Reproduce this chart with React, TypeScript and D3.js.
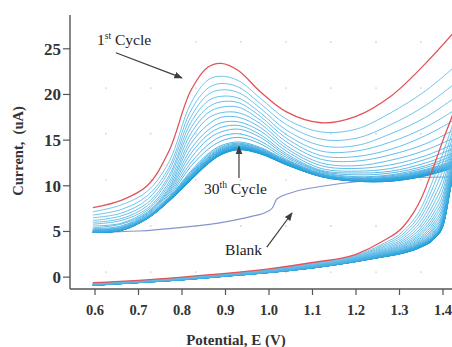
import * as d3 from 'd3';

// potential grids (V) for the two half-scans
const upperE = [0.595, 0.66, 0.72, 0.77, 0.82, 0.86, 0.89, 0.93, 0.98, 1.04, 1.12, 1.2, 1.28, 1.36, 1.44];
const lowerE = [0.595, 0.7, 0.8, 0.9, 1.0, 1.1, 1.2, 1.26, 1.31, 1.35, 1.38, 1.4, 1.42, 1.45];

// upper half-scan current (uA), cycle 1 .. cycle 30
const upperScans: number[][] = [
  [7.6, 8.4, 10.0, 13.8, 20.4, 23.0, 23.4, 22.6, 20.3, 18.1, 16.9, 17.6, 19.8, 23.4, 27.6],
  [7.15, 7.9, 9.4, 12.6, 19.0, 21.6, 22.0, 21.5, 19.6, 17.3, 15.9, 16.2, 18.0, 20.4, 23.6],
  [6.8, 7.4, 8.9, 12.0, 18.2, 20.7, 21.2, 20.8, 19.0, 16.7, 15.1, 15.2, 16.7, 18.8, 21.7],
  [6.5, 7.0, 8.5, 11.6, 17.5, 20.0, 20.5, 20.2, 18.5, 16.1, 14.4, 14.4, 15.7, 17.5, 20.1],
  [6.2, 6.7, 8.1, 11.1, 16.9, 19.3, 19.8, 19.6, 18.0, 15.6, 13.8, 13.8, 14.8, 16.4, 18.7],
  [6.0, 6.4, 7.8, 10.8, 16.3, 18.6, 19.2, 19.1, 17.6, 15.2, 13.3, 13.2, 14.0, 15.5, 17.6],
  [5.8, 6.2, 7.5, 10.4, 15.7, 18.0, 18.6, 18.6, 17.2, 14.8, 12.9, 12.7, 13.4, 14.6, 16.5],
  [5.6, 5.9, 7.3, 10.1, 15.1, 17.4, 18.0, 18.0, 16.8, 14.4, 12.5, 12.2, 12.8, 13.9, 15.6],
  [5.4, 5.8, 7.1, 9.8, 14.6, 16.7, 17.5, 17.5, 16.4, 14.1, 12.2, 11.9, 12.3, 13.3, 14.9],
  [5.3, 5.6, 7.0, 9.6, 14.0, 16.1, 16.9, 17.0, 16.0, 13.8, 11.9, 11.6, 11.9, 12.9, 14.4],
  [5.2, 5.5, 6.9, 9.4, 13.5, 15.6, 16.4, 16.6, 15.6, 13.5, 11.7, 11.4, 11.6, 12.5, 13.9],
  [5.2, 5.4, 6.8, 9.2, 13.0, 15.1, 15.9, 16.2, 15.3, 13.3, 11.6, 11.2, 11.4, 12.2, 13.6],
  [5.1, 5.4, 6.7, 9.0, 12.5, 14.5, 15.4, 15.7, 14.9, 13.1, 11.5, 11.0, 11.2, 12.0, 13.3],
  [5.1, 5.3, 6.6, 8.8, 12.1, 14.0, 14.9, 15.3, 14.6, 12.9, 11.4, 10.9, 11.1, 11.8, 13.0],
  [5.0, 5.3, 6.6, 8.7, 11.6, 13.5, 14.4, 14.8, 14.2, 12.8, 11.3, 10.8, 11.0, 11.7, 12.9],
  [4.99, 5.27, 6.57, 8.64, 11.45, 13.34, 14.25, 14.67, 14.1, 12.73, 11.26, 10.76, 10.93, 11.61, 12.8],
  [4.97, 5.24, 6.54, 8.59, 11.32, 13.19, 14.12, 14.56, 14.0, 12.66, 11.22, 10.72, 10.86, 11.53, 12.7],
  [4.96, 5.22, 6.52, 8.54, 11.21, 13.07, 14.01, 14.47, 13.93, 12.61, 11.18, 10.68, 10.81, 11.47, 12.63],
  [4.95, 5.2, 6.5, 8.51, 11.12, 12.97, 13.92, 14.39, 13.86, 12.56, 11.16, 10.66, 10.76, 11.41, 12.56],
  [4.94, 5.19, 6.49, 8.48, 11.04, 12.88, 13.84, 14.32, 13.81, 12.52, 11.13, 10.63, 10.72, 11.36, 12.51],
  [4.94, 5.17, 6.47, 8.45, 10.97, 12.81, 13.77, 14.26, 13.76, 12.49, 11.11, 10.61, 10.69, 11.32, 12.46],
  [4.93, 5.16, 6.46, 8.42, 10.91, 12.74, 13.71, 14.21, 13.72, 12.46, 11.09, 10.59, 10.66, 11.29, 12.42],
  [4.93, 5.15, 6.45, 8.4, 10.85, 12.68, 13.65, 14.16, 13.68, 12.43, 11.08, 10.58, 10.63, 11.25, 12.38],
  [4.92, 5.14, 6.44, 8.38, 10.8, 12.62, 13.6, 14.12, 13.64, 12.4, 11.06, 10.56, 10.6, 11.22, 12.34],
  [4.92, 5.13, 6.43, 8.36, 10.75, 12.57, 13.55, 14.08, 13.61, 12.38, 11.05, 10.55, 10.58, 11.19, 12.31],
  [4.91, 5.12, 6.42, 8.34, 10.71, 12.52, 13.51, 14.04, 13.58, 12.36, 11.03, 10.53, 10.56, 11.17, 12.28],
  [4.91, 5.11, 6.41, 8.33, 10.67, 12.48, 13.47, 14.01, 13.55, 12.34, 11.02, 10.52, 10.54, 11.14, 12.25],
  [4.9, 5.11, 6.41, 8.32, 10.64, 12.44, 13.44, 13.98, 13.53, 12.32, 11.01, 10.51, 10.52, 11.12, 12.23],
  [4.9, 5.1, 6.4, 8.31, 10.62, 12.42, 13.42, 13.97, 13.51, 12.31, 11.01, 10.51, 10.51, 11.11, 12.21],
  [4.9, 5.1, 6.4, 8.3, 10.6, 12.4, 13.4, 13.95, 13.5, 12.3, 11.0, 10.5, 10.5, 11.1, 12.2],
];

// lower half-scan current (uA), cycle 1 .. cycle 30
const lowerScans: number[][] = [
  [-0.6, -0.35, 0.0, 0.4, 0.9, 1.6, 2.5, 3.9, 5.6, 8.6, 12.3, 15.0, 17.5, 22.0],
  [-0.65, -0.4, -0.05, 0.35, 0.85, 1.5, 2.4, 3.6, 5.1, 7.6, 11.0, 13.6, 16.4, 21.0],
  [-0.68, -0.42, -0.08, 0.32, 0.81, 1.44, 2.32, 3.43, 4.81, 7.08, 10.18, 12.64, 15.68, 20.4],
  [-0.71, -0.45, -0.11, 0.29, 0.77, 1.39, 2.24, 3.28, 4.54, 6.61, 9.44, 11.76, 15.02, 19.85],
  [-0.73, -0.47, -0.13, 0.27, 0.73, 1.34, 2.17, 3.14, 4.29, 6.18, 8.76, 10.96, 14.42, 19.35],
  [-0.76, -0.48, -0.16, 0.25, 0.7, 1.29, 2.11, 3.01, 4.07, 5.79, 8.14, 10.24, 13.88, 18.9],
  [-0.78, -0.5, -0.18, 0.23, 0.68, 1.25, 2.05, 2.9, 3.88, 5.45, 7.6, 9.6, 13.4, 18.5],
  [-0.79, -0.51, -0.19, 0.21, 0.65, 1.22, 2.0, 2.8, 3.7, 5.15, 7.12, 9.04, 12.98, 18.15],
  [-0.81, -0.53, -0.21, 0.19, 0.63, 1.19, 1.96, 2.72, 3.56, 4.89, 6.72, 8.56, 12.62, 17.85],
  [-0.82, -0.54, -0.22, 0.18, 0.61, 1.16, 1.92, 2.65, 3.43, 4.68, 6.38, 8.16, 12.32, 17.6],
  [-0.83, -0.55, -0.23, 0.17, 0.59, 1.14, 1.89, 2.58, 3.31, 4.46, 6.04, 7.76, 12.02, 17.35],
  [-0.84, -0.55, -0.24, 0.16, 0.58, 1.12, 1.86, 2.52, 3.21, 4.29, 5.76, 7.44, 11.78, 17.15],
  [-0.85, -0.56, -0.25, 0.15, 0.57, 1.1, 1.83, 2.47, 3.12, 4.12, 5.49, 7.12, 11.54, 16.95],
  [-0.86, -0.57, -0.26, 0.14, 0.56, 1.08, 1.81, 2.42, 3.04, 3.99, 5.29, 6.88, 11.36, 16.8],
  [-0.87, -0.57, -0.27, 0.13, 0.55, 1.07, 1.79, 2.38, 2.97, 3.86, 5.08, 6.64, 11.18, 16.65],
  [-0.87, -0.58, -0.27, 0.13, 0.54, 1.06, 1.78, 2.35, 2.92, 3.77, 4.95, 6.48, 11.06, 16.55],
  [-0.88, -0.58, -0.28, 0.12, 0.53, 1.05, 1.76, 2.33, 2.87, 3.69, 4.81, 6.32, 10.94, 16.45],
  [-0.88, -0.59, -0.28, 0.12, 0.53, 1.04, 1.75, 2.31, 2.83, 3.62, 4.71, 6.2, 10.85, 16.38],
  [-0.89, -0.59, -0.29, 0.11, 0.52, 1.03, 1.74, 2.28, 2.8, 3.56, 4.61, 6.08, 10.76, 16.3],
  [-0.89, -0.59, -0.29, 0.11, 0.52, 1.03, 1.74, 2.27, 2.77, 3.52, 4.54, 6.0, 10.7, 16.25],
  [-0.89, -0.59, -0.29, 0.11, 0.51, 1.02, 1.73, 2.26, 2.75, 3.47, 4.47, 5.92, 10.64, 16.2],
  [-0.89, -0.59, -0.29, 0.11, 0.51, 1.02, 1.72, 2.25, 2.73, 3.44, 4.42, 5.86, 10.6, 16.17],
  [-0.89, -0.6, -0.29, 0.11, 0.51, 1.01, 1.72, 2.24, 2.71, 3.41, 4.38, 5.81, 10.56, 16.13],
  [-0.9, -0.6, -0.3, 0.1, 0.51, 1.01, 1.71, 2.23, 2.7, 3.39, 4.34, 5.76, 10.52, 16.1],
  [-0.9, -0.6, -0.3, 0.1, 0.5, 1.01, 1.71, 2.22, 2.69, 3.36, 4.3, 5.72, 10.49, 16.08],
  [-0.9, -0.6, -0.3, 0.1, 0.5, 1.0, 1.71, 2.21, 2.67, 3.34, 4.27, 5.68, 10.46, 16.05],
  [-0.9, -0.6, -0.3, 0.1, 0.5, 1.0, 1.7, 2.21, 2.67, 3.33, 4.25, 5.66, 10.44, 16.04],
  [-0.9, -0.6, -0.3, 0.1, 0.5, 1.0, 1.7, 2.2, 2.66, 3.32, 4.23, 5.63, 10.42, 16.02],
  [-0.9, -0.6, -0.3, 0.1, 0.5, 1.0, 1.7, 2.2, 2.65, 3.31, 4.21, 5.62, 10.41, 16.01],
  [-0.9, -0.6, -0.3, 0.1, 0.5, 1.0, 1.7, 2.2, 2.65, 3.3, 4.2, 5.6, 10.4, 16.0],
];

// blank electrode scan
const blankE = [0.595, 0.7, 0.8, 0.9, 0.96, 0.995, 1.008, 1.018, 1.055, 1.13, 1.21, 1.29, 1.36, 1.44];
const blankI = [4.93, 5.05, 5.45, 6.05, 6.65, 7.15, 7.6, 8.55, 9.3, 10.0, 10.5, 10.85, 10.93, 10.98];

const xTicks = [0.6, 0.7, 0.8, 0.9, 1.0, 1.1, 1.2, 1.3, 1.4];
const yTicks = [0, 5, 10, 15, 20, 25];

// faint dotted grid
const gridE = [0.625, 0.728, 0.832, 0.935, 1.039, 1.142, 1.246, 1.349];
const gridI = [0.55, 5.6, 10.65, 15.7, 20.7, 25.75];

const W = 452;
const H = 347;
const serif = "'Times New Roman', 'Liberation Serif', serif";
const RED = '#e0545a';

export default function App() {
  const x = d3.scaleLinear().domain([0.6, 1.4]).range([95, 443]);
  const y = d3.scaleLinear().domain([-1.3, 28.7]).range([289, 15]);
  const axisX = 70;
  const axisY = 289;

  const smooth = d3.line<[number, number]>()
    .x(d => x(d[0]))
    .y(d => y(d[1]))
    .curve(d3.curveCatmullRom.alpha(0.5));
  const mono = d3.line<[number, number]>()
    .x(d => x(d[0]))
    .y(d => y(d[1]))
    .curve(d3.curveMonotoneX);

  const blueColor = d3.scaleLinear<string>()
    .domain([1, 29])
    .range(['#62bde8', '#1798d8']);

  const cycles = upperScans.map((u, i) => ({
    upper: smooth(upperE.map((e, j) => [e, u[j]] as [number, number])) || '',
    lower: mono(lowerE.map((e, j) => [e, lowerScans[i][j]] as [number, number])) || '',
    color: i === 0 ? RED : blueColor(i),
  }));
  const blankPath = mono(blankE.map((e, j) => [e, blankI[j]] as [number, number])) || '';

  const arrows = [
    { from: [0.648, 24.56], to: [0.8, 21.82] },
    { from: [0.931, 10.86], to: [0.931, 14.3] },
    { from: [0.995, 3.29], to: [1.053, 7.02] },
  ];

  return (
    <svg width={W} height={H} style={{ position: 'fixed', left: 0, top: 0, background: '#fff' }}
      fontFamily={serif}>
      <defs>
        <clipPath id="plot">
          <rect x={axisX} y={0} width={W - axisX} height={axisY} />
        </clipPath>
        <marker id="head" viewBox="0 0 10 10" refX={9} refY={5} markerWidth={7} markerHeight={7}
          orient="auto-start-reverse">
          <path d="M0,1 L10,5 L0,9 z" fill="#3d3d3d" />
        </marker>
      </defs>

      {gridE.map(e => gridI.map(v => (
        <circle key={`${e}-${v}`} cx={x(e)} cy={y(v)} r={0.9} fill="#d6d6d6" />
      )))}

      <g clipPath="url(#plot)" fill="none">
        <path d={blankPath} stroke="#8594cf" strokeWidth={1.1} />
        {cycles.slice().reverse().map((c, k) => (
          <g key={k} stroke={c.color} strokeWidth={c.color === RED ? 1.3 : 0.9}>
            <path d={c.lower} />
            <path d={c.upper} />
          </g>
        ))}
      </g>

      {/* axes */}
      <line x1={axisX} x2={axisX} y1={15} y2={axisY} stroke="#555" strokeWidth={1.4} />
      <line x1={axisX} x2={W} y1={axisY} y2={axisY} stroke="#555" strokeWidth={1.4} />
      {yTicks.map(t => (
        <g key={t}>
          <line x1={axisX - 7} x2={axisX} y1={y(t)} y2={y(t)} stroke="#555" strokeWidth={1.2} />
          <text x={axisX - 9} y={y(t)} dy="0.35em" textAnchor="end" fontSize={17} fontWeight="bold"
            fill="#333">{t}</text>
        </g>
      ))}
      {xTicks.map(t => (
        <g key={t}>
          <line x1={x(t)} x2={x(t)} y1={axisY} y2={axisY + 6} stroke="#555" strokeWidth={1.2} />
          <text x={x(t)} y={315} textAnchor="middle" fontSize={14.5} fontWeight="bold"
            fill="#333">{t.toFixed(1)}</text>
        </g>
      ))}

      <text transform="translate(23,151) rotate(-90)" textAnchor="middle" fontSize={14.5}
        fontWeight="bold" fill="#333" style={{ whiteSpace: 'pre' }}>Current,  (uA)</text>
      <text x={236} y={345} textAnchor="middle" fontSize={15} fontWeight="bold"
        fill="#333">Potential, E (V)</text>

      {/* annotations */}
      {arrows.map((a, i) => (
        <line key={i} x1={x(a.from[0])} y1={y(a.from[1])} x2={x(a.to[0])} y2={y(a.to[1])}
          stroke="#3d3d3d" strokeWidth={1.2} markerEnd="url(#head)" />
      ))}
      <text x={x(0.6046)} y={y(25.44)} fontSize={15.5} fill="#222">
        1<tspan fontSize={9.5} dy={-6}>st</tspan><tspan dy={6}> Cycle</tspan>
      </text>
      <text x={x(0.8506)} y={y(9.1)} fontSize={15.5} fill="#222">
        30<tspan fontSize={9.5} dy={-6}>th</tspan><tspan dy={6}> Cycle</tspan>
      </text>
      <text x={x(0.899)} y={y(2.41)} fontSize={15.5} fill="#222">Blank</text>
    </svg>
  );
}
